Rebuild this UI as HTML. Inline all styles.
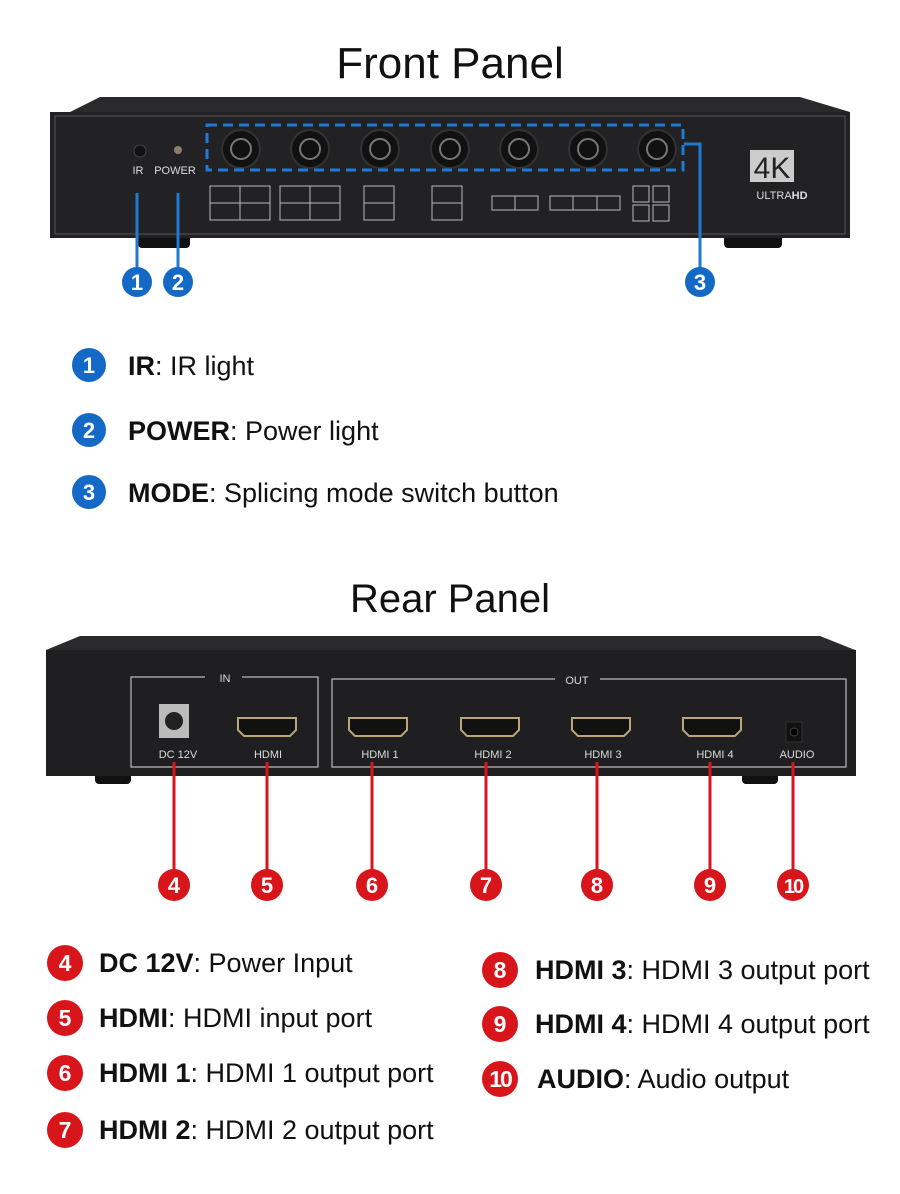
<!DOCTYPE html>
<html><head><meta charset="utf-8"><style>
body{margin:0;background:#fff;}
svg{display:block;font-family:"Liberation Sans",sans-serif;}
</style></head><body>
<svg width="900" height="1194" viewBox="0 0 900 1194" xmlns="http://www.w3.org/2000/svg">
<rect width="900" height="1194" fill="#fff"/>
<text x="450" y="78" font-size="44" text-anchor="middle" fill="#111">Front Panel</text>
<!-- front device -->
<polygon points="70,112 100,97 800,97 850,112" fill="#2a2a2c"/>
<rect x="138" y="232" width="52" height="16" rx="4" fill="#111"/>
<rect x="724" y="232" width="58" height="16" rx="4" fill="#111"/>
<rect x="50" y="112" width="800" height="126" fill="#222224"/>
<rect x="55" y="116" width="790" height="118" fill="none" stroke="#555" stroke-width="1"/>
<circle cx="140" cy="151" r="6" fill="#111" stroke="#444"/>
<circle cx="178" cy="150" r="4" fill="#8a7f66"/>
<text x="138" y="174" font-size="11" fill="#ddd" text-anchor="middle">IR</text>
<text x="175" y="174" font-size="11" fill="#ddd" text-anchor="middle">POWER</text>
<g fill="#111" stroke="#333" stroke-width="2">
<circle cx="241" cy="149" r="19"/><circle cx="310" cy="149" r="19"/><circle cx="380" cy="149" r="19"/><circle cx="450" cy="149" r="19"/><circle cx="519" cy="149" r="19"/><circle cx="588" cy="149" r="19"/><circle cx="657" cy="149" r="19"/>
</g>
<g fill="none" stroke="#777" stroke-width="2">
<circle cx="241" cy="149" r="10"/><circle cx="310" cy="149" r="10"/><circle cx="380" cy="149" r="10"/><circle cx="450" cy="149" r="10"/><circle cx="519" cy="149" r="10"/><circle cx="588" cy="149" r="10"/><circle cx="657" cy="149" r="10"/>
</g>
<rect x="207" y="125" width="476" height="45" fill="none" stroke="#1e7ad2" stroke-width="3" stroke-dasharray="10,6"/>
<g fill="none" stroke="#bbb" stroke-width="1">
<rect x="210" y="186" width="60" height="34"/><line x1="240" y1="186" x2="240" y2="220"/><line x1="210" y1="203" x2="270" y2="203"/>
<rect x="280" y="186" width="60" height="34"/><line x1="310" y1="186" x2="310" y2="220"/><line x1="280" y1="203" x2="340" y2="203"/>
<rect x="364" y="186" width="30" height="34"/><line x1="364" y1="203" x2="394" y2="203"/>
<rect x="432" y="186" width="30" height="34"/><line x1="432" y1="203" x2="462" y2="203"/>
<rect x="492" y="196" width="46" height="14"/><line x1="515" y1="196" x2="515" y2="210"/>
<rect x="550" y="196" width="70" height="14"/><line x1="573" y1="196" x2="573" y2="210"/><line x1="597" y1="196" x2="597" y2="210"/>
<rect x="633" y="186" width="16" height="16"/><rect x="653" y="186" width="16" height="16"/><rect x="633" y="205" width="16" height="16"/><rect x="653" y="205" width="16" height="16"/>
</g>
<rect x="750" y="150" width="44" height="32" fill="#ccc"/>
<text x="772" y="178" font-size="30" text-anchor="middle" fill="#222">4K</text>
<text x="782" y="199" font-size="11" text-anchor="middle" fill="#ddd">ULTRA<tspan font-weight="bold">HD</tspan></text>
<!-- blue callouts -->
<g stroke="#1e7ad2" stroke-width="3" fill="none">
<line x1="137" y1="193" x2="137" y2="270"/><line x1="178" y1="193" x2="178" y2="270"/>
<polyline points="684,144 700,144 700,270"/>
</g>
<g fill="#1469c7"><circle cx="137" cy="282" r="15"/><circle cx="178" cy="282" r="15"/><circle cx="700" cy="282" r="15"/></g>
<g fill="#fff" font-size="22" font-weight="bold" text-anchor="middle">
<text x="137" y="290">1</text><text x="178" y="290">2</text><text x="700" y="290">3</text></g>
<!-- front legend -->
<g fill="#1469c7"><circle cx="89" cy="365" r="17"/><circle cx="89" cy="430" r="17"/><circle cx="89" cy="492" r="17"/></g>
<g fill="#fff" font-size="22" font-weight="bold" text-anchor="middle">
<text x="89" y="373">1</text><text x="89" y="438">2</text><text x="89" y="500">3</text></g>
<g font-size="27" fill="#111">
<text x="128" y="375"><tspan font-weight="bold">IR</tspan>: IR light</text>
<text x="128" y="440"><tspan font-weight="bold">POWER</tspan>: Power light</text>
<text x="128" y="502"><tspan font-weight="bold">MODE</tspan>: Splicing mode switch button</text>
</g>
<text x="450" y="612" font-size="40" text-anchor="middle" fill="#111">Rear Panel</text>
<!-- rear device -->
<polygon points="46,650 80,636 820,636 855,650" fill="#2a2a2c"/>
<rect x="95" y="770" width="36" height="14" rx="4" fill="#111"/>
<rect x="742" y="770" width="36" height="14" rx="4" fill="#111"/>
<rect x="46" y="650" width="810" height="126" fill="#1f1f21"/>
<g fill="none" stroke="#bbb" stroke-width="1.2">
<polyline points="205,677 131,677 131,767 318,767 318,677 242,677"/>
<polyline points="555,679 332,679 332,767 846,767 846,679 600,679"/>
</g>
<g fill="#ddd" font-size="11" text-anchor="middle">
<text x="225" y="682">IN</text><text x="577" y="684">OUT</text>
<text x="178" y="758">DC 12V</text><text x="268" y="758">HDMI</text>
<text x="380" y="758">HDMI  1</text><text x="493" y="758">HDMI  2</text><text x="603" y="758">HDMI  3</text><text x="715" y="758">HDMI  4</text><text x="797" y="758">AUDIO</text>
</g>
<rect x="159" y="704" width="30" height="34" fill="#bbb"/><circle cx="174" cy="721" r="9" fill="#222"/>
<g fill="#111" stroke="#b9a67a" stroke-width="2">
<path d="M238,718 h58 v12 l-6,6 h-46 l-6,-6 z"/>
<path d="M349,718 h58 v12 l-6,6 h-46 l-6,-6 z"/>
<path d="M461,718 h58 v12 l-6,6 h-46 l-6,-6 z"/>
<path d="M572,718 h58 v12 l-6,6 h-46 l-6,-6 z"/>
<path d="M683,718 h58 v12 l-6,6 h-46 l-6,-6 z"/>
</g>
<rect x="786" y="722" width="16" height="20" fill="#111" stroke="#333"/><circle cx="794" cy="732" r="4" fill="#000" stroke="#444"/>
<!-- red callouts -->
<g stroke="#d8151b" stroke-width="3">
<line x1="174" y1="762" x2="174" y2="872"/><line x1="267" y1="762" x2="267" y2="872"/><line x1="372" y1="762" x2="372" y2="872"/><line x1="486" y1="762" x2="486" y2="872"/><line x1="597" y1="762" x2="597" y2="872"/><line x1="710" y1="762" x2="710" y2="872"/><line x1="793" y1="762" x2="793" y2="872"/>
</g>
<g fill="#d8151b"><circle cx="174" cy="885" r="16"/><circle cx="267" cy="885" r="16"/><circle cx="372" cy="885" r="16"/><circle cx="486" cy="885" r="16"/><circle cx="597" cy="885" r="16"/><circle cx="710" cy="885" r="16"/><circle cx="793" cy="885" r="16"/></g>
<g fill="#fff" font-size="22" font-weight="bold" text-anchor="middle">
<text x="174" y="893">4</text><text x="267" y="893">5</text><text x="372" y="893">6</text><text x="486" y="893">7</text><text x="597" y="893">8</text><text x="710" y="893">9</text><text x="793" y="893" font-size="20" letter-spacing="-2">10</text></g>
<!-- rear legend -->
<g fill="#d8151b"><circle cx="65" cy="963" r="18"/><circle cx="65" cy="1018" r="18"/><circle cx="65" cy="1073" r="18"/><circle cx="65" cy="1130" r="18"/><circle cx="500" cy="970" r="18"/><circle cx="500" cy="1024" r="18"/><circle cx="500" cy="1079" r="18"/></g>
<g fill="#fff" font-size="23" font-weight="bold" text-anchor="middle">
<text x="65" y="971">4</text><text x="65" y="1026">5</text><text x="65" y="1081">6</text><text x="65" y="1138">7</text><text x="500" y="978">8</text><text x="500" y="1032">9</text><text x="500" y="1087" letter-spacing="-2">10</text></g>
<g font-size="27" fill="#111">
<text x="99" y="972"><tspan font-weight="bold">DC 12V</tspan>: Power Input</text>
<text x="99" y="1027"><tspan font-weight="bold">HDMI</tspan>: HDMI input port</text>
<text x="99" y="1082"><tspan font-weight="bold">HDMI 1</tspan>: HDMI 1 output port</text>
<text x="99" y="1139"><tspan font-weight="bold">HDMI 2</tspan>: HDMI 2 output port</text>
<text x="535" y="979"><tspan font-weight="bold">HDMI 3</tspan>: HDMI 3 output port</text>
<text x="535" y="1033"><tspan font-weight="bold">HDMI 4</tspan>: HDMI 4 output port</text>
<text x="537" y="1088"><tspan font-weight="bold">AUDIO</tspan>: Audio output</text>
</g>
</svg>
</body></html>
